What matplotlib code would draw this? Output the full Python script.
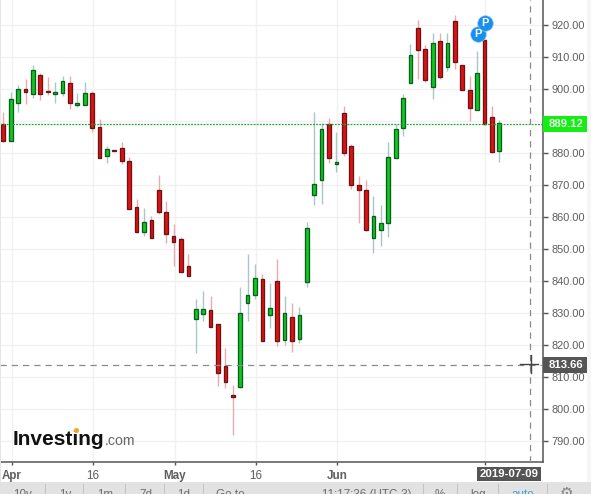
import numpy as np
import matplotlib
matplotlib.use('Agg')
import matplotlib.pyplot as plt
from matplotlib.patches import Rectangle

plt.rcParams['font.family'] = ['Liberation Sans', 'DejaVu Sans']

# daily candles
opens = [888.97, 883.75, 895.63, 899.81, 898.44, 904.19, 899.19, 898.44, 898.75, 901.69, 895.0, 895.0,
         898.56, 887.94, 879.06, 880.84, 881.38, 877.31, 862.94, 855.13, 858.88, 868.25, 861.38, 853.88,
         852.94, 844.5, 827.94, 829.5, 830.75, 826.38, 813.25, 804.19, 806.88, 832.94, 835.44, 840.44,
         829.19, 839.81, 821.38, 828.56, 821.69, 839.5, 866.69, 871.38, 889.06, 876.38, 892.31, 882.0,
         869.81, 868.25, 853.25, 855.75, 857.94, 878.25, 887.63, 901.69, 918.88, 912.31, 900.44, 914.81,
         906.69, 921.06, 907.31, 899.5, 893.25, 915.13, 891.06, 880.44]
closes = [883.75, 896.69, 899.81, 899.06, 905.75, 898.44, 898.97, 898.88, 902.31, 895.63, 895.44, 898.56,
          887.81, 878.44, 881.06, 880.63, 877.5, 862.31, 855.31, 858.25, 853.44, 861.56, 854.69, 852.0,
          842.63, 841.38, 831.06, 831.06, 825.44, 811.06, 808.44, 803.75, 829.81, 835.44, 840.75, 821.06,
          831.38, 821.25, 829.81, 821.06, 829.19, 856.38, 870.13, 887.31, 878.25, 877.0, 880.0, 869.81,
          868.44, 855.75, 860.13, 857.94, 878.56, 887.31, 897.0, 910.44, 912.0, 902.63, 914.19, 903.56,
          914.19, 908.25, 899.5, 893.88, 904.81, 888.88, 880.13, 889.19]
highs = [892.81, 899.06, 901.16, 903.03, 907.41, 904.82, 903.66, 902.0, 903.88, 903.97, 898.66, 902.0,
         899.19, 890.53, 882.0, 880.84, 883.25, 878.75, 865.53, 862.72, 860.13, 873.03, 864.81, 857.63,
         853.56, 848.25, 834.28, 836.78, 835.13, 826.38, 818.88, 807.41, 838.13, 848.25, 845.13, 842.0,
         839.19, 846.78, 835.13, 832.94, 831.88, 858.25, 892.72, 889.19, 890.75, 886.38, 894.5, 882.63,
         872.63, 871.38, 866.38, 863.66, 883.25, 888.97, 898.25, 913.97, 921.38, 913.56, 917.31, 917.31,
         917.5, 923.03, 907.31, 903.88, 911.69, 915.13, 894.5, 890.13]
lows = [883.44, 883.66, 892.81, 895.22, 897.19, 896.47, 898.03, 895.44, 897.81, 893.66, 894.38, 895.0,
        886.56, 878.44, 876.88, 880.63, 876.47, 862.31, 855.0, 854.06, 853.25, 860.94, 851.88, 844.69,
        842.63, 841.38, 817.5, 827.41, 825.44, 807.19, 806.56, 791.78, 806.38, 827.5, 834.38, 821.06,
        825.31, 819.69, 820.0, 817.81, 820.63, 838.13, 863.75, 864.06, 876.88, 874.06, 879.06, 868.75,
        858.13, 855.44, 848.66, 850.94, 853.56, 878.25, 885.31, 901.69, 903.13, 902.0, 896.88, 902.94,
        905.63, 906.06, 899.5, 889.81, 893.25, 888.56, 879.81, 877.19]

y_ticks = [790, 800, 810, 820, 830, 840, 850, 860, 870, 880, 890, 900, 910, 920]
x_tick_idx = [1, 12, 23, 34, 45, 65]
x_tick_labels = ['Apr', '16', 'May', '16', 'Jun', '']
bold_labels = ['Apr', 'May', 'Jun']
last_price = 889.12
cursor_price = 813.66
cursor_idx = 71.2
cursor_date = '2019-07-09'
pivot_idx = [64.1, 65.1]
pivot_price = [917.0, 920.5]

W, H = 591, 494
fig = plt.figure(figsize=(W / 100, H / 100), dpi=100, facecolor='white')
axis_right = 542.7
axis_bottom = 462.3
ax = fig.add_axes([0, 1 - axis_bottom / H, axis_right / W, axis_bottom / H])
ax.set_xlim(-0.446, 72.86)
ax.set_ylim(783.25, 927.72)

# grid
ax.set_axisbelow(True)
ax.grid(True, color='#f1f1f1', lw=1)
ax.set_yticks(y_ticks)
# the 890 label sits behind the green price box, so it is left blank
ax.set_yticklabels(['' if t == 890 else '%.2f' % t for t in y_ticks])
ax.set_xticks([i + 0.13 for i in x_tick_idx])
ax.set_xticklabels(x_tick_labels)
ax.yaxis.tick_right()
ax.tick_params(axis='y', length=3.5, width=1, color='#555555', labelcolor='#5e5e5e', labelsize=7.9, pad=2.5)
ax.tick_params(axis='x', length=2.5, width=1, color='#555555', labelcolor='#5e5e5e', labelsize=8.4, pad=3)
for lab in ax.get_xticklabels():
    if lab.get_text() in bold_labels:
        lab.set_fontweight('bold')
for side in ['top', 'left']:
    ax.spines[side].set_visible(False)
for side in ['right', 'bottom']:
    ax.spines[side].set_color('#555555')
    ax.spines[side].set_linewidth(1.1)

# candles
o = np.array(opens)
c = np.array(closes)
x = np.arange(len(o))
up = c >= o
ax.vlines(x[up], np.array(lows)[up], np.array(highs)[up], color='#a9c6ca', lw=1, zorder=2)
ax.vlines(x[~up], np.array(lows)[~up], np.array(highs)[~up], color='#e9aab0', lw=1, zorder=2)
ax.bar(x[up], (c - o)[up], bottom=o[up], width=0.5, color='#10c820', edgecolor='#0c5e1c', lw=0.95, zorder=3)
ax.bar(x[~up], (c - o)[~up], bottom=o[~up], width=0.5, color='#e21010', edgecolor='#661616', lw=0.95, zorder=3)

# last price and cursor lines
ax.axhline(last_price, color='#22a832', lw=0.9, ls=(0, (1.5, 1)), zorder=4)
ax.axhline(cursor_price, color='#8a8a8a', lw=0.9, ls=(0, (5, 4)), zorder=4)
ax.axvline(cursor_idx, color='#8a8a8a', lw=0.9, ls=(0, (5, 4)), zorder=4)

# P badges
ax.scatter(pivot_idx, pivot_price, s=125, color='#1790ee', edgecolor='#8cc8f5', lw=0.5, zorder=5)
for px_, py_ in zip(pivot_idx, pivot_price):
    ax.text(px_, py_, 'P', color='white', fontsize=8, fontweight='bold', ha='center', va='center', zorder=6)

# everything around the chart, in pixels
top = fig.add_axes([0, 0, 1, 1], facecolor='none')
top.set_xlim(0, W)
top.set_ylim(H, 0)
top.axis('off')

top.add_patch(Rectangle((0, 0), 1, 482, color='#e6e6e6', lw=0))
top.add_patch(Rectangle((587, 0), 4, 482, color='#f6f6f6', lw=0))
top.add_patch(Rectangle((0, 482), W, 12, color='#e2e2e2', lw=0))

# cursor cross
top.plot([520, 538], [364, 364], color='#444444', lw=1)
top.plot([530.6, 530.6], [355, 373], color='#444444', lw=1)

# label boxes
top.add_patch(Rectangle((543, 116), 44, 15.5, color='#14ee14', lw=0))
top.text(566, 124, '%.2f' % last_price, color='#eafbe6', fontsize=8.2, fontweight='bold', ha='center', va='center')
top.add_patch(Rectangle((543, 357), 44, 15.5, color='#555555', lw=0))
top.text(566, 365.2, '%.2f' % cursor_price, color='white', fontsize=8.2, fontweight='bold', ha='center', va='center')
top.add_patch(Rectangle((477.3, 466.5), 63.4, 14.5, color='#555555', lw=0))
top.text(509, 474, cursor_date, color='white', fontsize=8.2, fontweight='bold', ha='center', va='center')

# logo
top.text(13, 445, 'Investing', color='#111111', fontsize=15, fontweight='bold', va='baseline')
top.text(105, 445, '.com', color='#666666', fontsize=10.2, va='baseline')
top.scatter([76], [429.5], s=14, color='#f0a830', lw=0, zorder=5)

# toolbar, cut off by the bottom edge as in the screenshot
for sx in [45, 83, 125, 164, 203, 423, 457, 498, 547]:
    top.plot([sx, sx], [484, 494], color='#c4c4c4', lw=0.8)
bar_text = [('10y', 23), ('1y', 65.7), ('1m', 105), ('7d', 146), ('1d', 184), ('Go to', 230),
            ('11:17:36 (UTC-3)', 367), ('%', 440), ('log', 478)]
for txt, tx in bar_text:
    top.text(tx, 498, txt, color='#6e6e6e', fontsize=8.4, ha='center', va='baseline')
top.text(522.7, 498, 'auto', color='#3aa3dc', fontsize=8.4, ha='center', va='baseline')
top.text(566.7, 498, '\u2699', color='#808080', fontsize=11, family='DejaVu Sans', ha='center', va='baseline')

fig.savefig('out.png', dpi=100)
